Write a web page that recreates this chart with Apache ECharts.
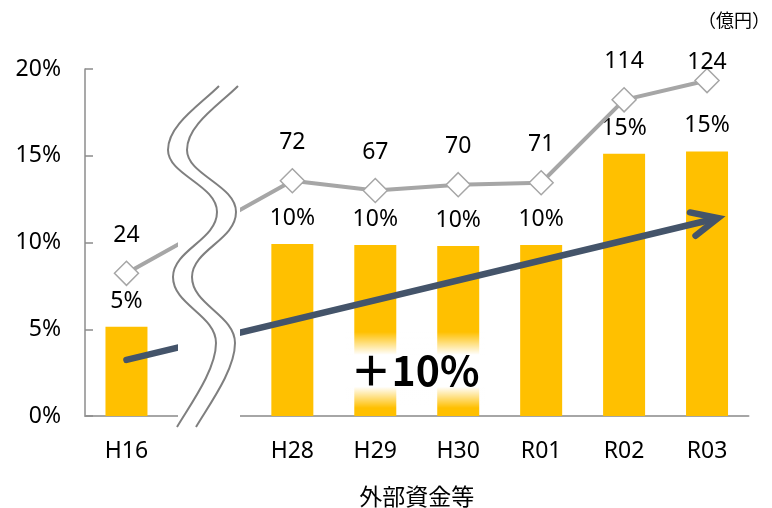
<!DOCTYPE html>
<html><head><meta charset="utf-8">
<script src="https://cdn.jsdelivr.net/npm/echarts@6/dist/echarts.min.js"></script>
<style>html,body{margin:0;padding:0;background:#fff}#c{width:772px;height:508px}</style>
</head><body><div id="c"></div>
<script>
// ---- data ----
const categories = ['H16', '', 'H28', 'H29', 'H30', 'R01', 'R02', 'R03'];
const ratioValues = [5.15, '-', 9.91, 9.86, 9.80, 9.86, 15.12, 15.25];   // %
const amountValues = [24, null, 72, 67, 70, 71, 114, 124];              // 億円
const yTicks = { min: 0, max: 20, interval: 5 };
const amountAxis = { min: -50, max: 130 };
const arrowFrom = [0, 3.23];   // [category index, %]
const arrowTo = [7, 11.41];
const growthText = '＋10%';
const unitText = '（億円）';
const xName = '外部資金等';

const FONT = "'Noto Sans', 'Noto Sans CJK JP', sans-serif";
const CJK = "'Noto Sans CJK JP', sans-serif";
const chart = echarts.init(document.getElementById('c'));

// last line label sits lower (closer to its marker) as in the original
const lineData = amountValues.map((v, i) =>
  i === amountValues.length - 1 ? { value: v, label: { distance: -6 } } : v);

chart.setOption({
  animation: false,
  grid: { left: 85, right: 23.5, top: 69, bottom: 92, outerBoundsMode: 'none', containLabel: false },
  xAxis: {
    type: 'category', data: categories,
    axisLine: { lineStyle: { color: '#a6a6a6', width: 2 } },
    axisTick: { show: false },
    axisLabel: { color: '#000', fontSize: 23, fontFamily: FONT, margin: 24 },
    name: xName, nameLocation: 'middle', nameGap: 69,
    nameTextStyle: { color: '#000', fontSize: 23, fontFamily: CJK }
  },
  yAxis: [{
    type: 'value', min: yTicks.min, max: yTicks.max, interval: yTicks.interval,
    axisLine: { show: true, lineStyle: { color: '#8c8c8c', width: 1.5 } },
    axisTick: { show: true, inside: true, length: 8, lineStyle: { color: '#8c8c8c', width: 1.5 } },
    splitLine: { show: false },
    axisLabel: { formatter: '{value}%', color: '#000', fontSize: 23, fontFamily: FONT, margin: 24 }
  }, {
    type: 'value', min: amountAxis.min, max: amountAxis.max, show: false, splitLine: { show: false }
  }],
  series: [{
    type: 'bar', data: ratioValues, barWidth: 42, yAxisIndex: 0,
    itemStyle: { color: '#ffc000' },
    label: { show: true, position: 'top', distance: 14, color: '#000', fontSize: 23, fontFamily: FONT,
      formatter: p => Math.round(p.value) + '%' },
    z: 2
  }, {
    type: 'line', data: lineData, yAxisIndex: 1, connectNulls: true,
    lineStyle: { color: '#a6a6a6', width: 4 },
    symbol: 'diamond', symbolSize: 24,
    itemStyle: { color: '#fff', borderColor: '#a6a6a6', borderWidth: 1.5 },
    label: { show: true, position: 'top', distance: 14, color: '#000', fontSize: 23, fontFamily: FONT },
    z: 3
  }]
});

// ---- annotations ----
const a0 = chart.convertToPixel({ gridIndex: 0 }, arrowFrom);
const a1 = chart.convertToPixel({ gridIndex: 0 }, arrowTo);
a1[0] += 11;
const dx = a1[0] - a0[0], dy = a1[1] - a0[1], len = Math.hypot(dx, dy);
const ux = dx / len, uy = dy / len, nx = -uy, ny = ux;
const arm1 = [a1[0] - 26 * ux + 12 * nx, a1[1] - 26 * uy + 12 * ny];
const arm2 = [a1[0] - 26 * ux - 12 * nx, a1[1] - 26 * uy - 12 * ny];
const ARROW = '#44546a';

// wavy break: cubic segments [x1,y1,cp1x,cp1y,cp2x,cp2y,x2,y2]
const waveSegs = [
  [219, 86, 200, 105, 168, 125, 168, 150],
  [168, 150, 168, 175, 217, 185, 217, 212],
  [217, 212, 217, 240, 173, 250, 173, 277],
  [173, 277, 173, 305, 216, 315, 216, 343],
  [216, 343, 216, 370, 190, 405, 177, 427]
];
const waveEls = [];
[0, 19].forEach(off => {
  waveSegs.forEach(s => {
    waveEls.push({
      type: 'bezierCurve', z: 201,
      shape: { x1: s[0] + off, y1: s[1], cpx1: s[2] + off, cpy1: s[3], cpx2: s[4] + off, cpy2: s[5], x2: s[6] + off, y2: s[7] },
      style: { stroke: '#7f7f7f', lineWidth: 2, fill: null }
    });
  });
});

chart.setOption({
  graphic: [
    { type: 'line', z: 100, shape: { x1: a0[0], y1: a0[1], x2: a1[0] - 2 * ux, y2: a1[1] - 2 * uy },
      style: { stroke: ARROW, lineWidth: 6.5, lineCap: 'round' } },
    { type: 'polyline', z: 101, shape: { points: [arm1, a1, arm2] },
      style: { stroke: ARROW, lineWidth: 6.5, lineCap: 'round', lineJoin: 'miter', fill: null } },
    { type: 'rect', z: 200, shape: { x: 178, y: 60, width: 62, height: 368 }, style: { fill: '#fff' } },
    ...waveEls,
    // soft white glow behind the growth label
    { type: 'rect', z: 290, shape: { x: 345, y: 332, width: 140, height: 76 },
      style: { fill: new echarts.graphic.LinearGradient(0, 0, 0, 1, [
        { offset: 0, color: 'rgba(255,255,255,0)' },
        { offset: 0.3, color: 'rgba(255,255,255,1)' },
        { offset: 0.72, color: 'rgba(255,255,255,1)' },
        { offset: 1, color: 'rgba(255,255,255,0)' }]) } },
    { type: 'text', x: 415, y: 370, z: 300,
      style: { text: growthText, fill: '#000', font: 'bold 41px ' + CJK,
        textAlign: 'center', textVerticalAlign: 'middle' } },
    { type: 'text', right: 2, top: 11, z: 300,
      style: { text: unitText, fill: '#000', font: '18px ' + CJK } }
  ]
});
</script></body></html>
